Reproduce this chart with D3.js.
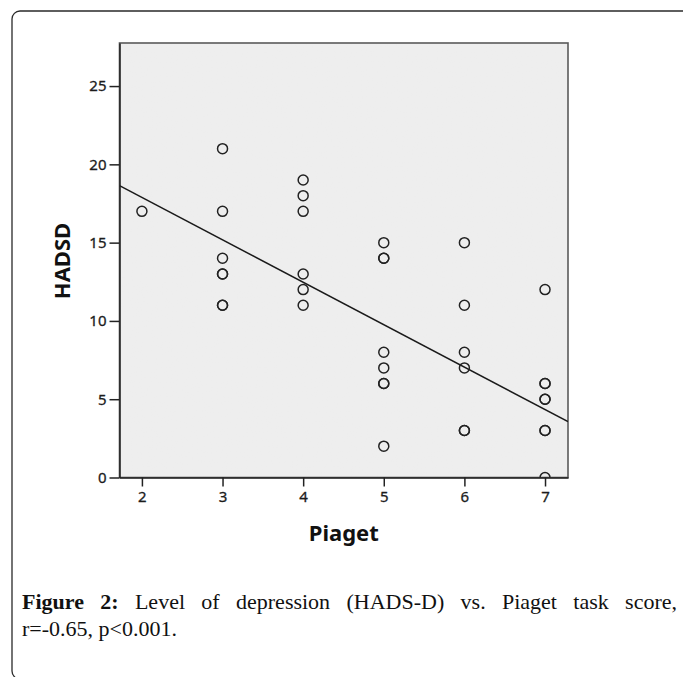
<!DOCTYPE html>
<html lang="en">
<head>
<meta charset="utf-8">
<title>HADSD vs Piaget</title>
<script src="https://cdn.jsdelivr.net/npm/d3@7"></script>
<style>
  body { margin: 0; background: #fff; }
  #wrap { position: relative; width: 683px; height: 677px; overflow: hidden; }
  #wrap svg { position: absolute; left: 0; top: 0; }
  .axis text { font-family: 'Noto Sans', sans-serif; font-size: 15px; fill: #1c1c1c;
               stroke: #1c1c1c; stroke-width: 0.3px; }
  .axis path, .axis line { stroke: #222; stroke-width: 1.5px; }
  .title { font-family: 'Noto Sans', sans-serif; font-weight: bold; font-size: 22px; fill: #111; }
  .caption { position: absolute; left: 22px; width: 655px; font-family: 'Liberation Serif', serif;
             font-size: 22px; line-height: 27px; color: #111; }
  .caption.first { text-align: justify; text-align-last: justify; }
</style>
</head>
<body>
<div id="wrap">
  <div id="viz"></div>
  <div class="caption first" style="top:588px"><b>Figure 2:</b> Level of depression (HADS-D) vs. Piaget task score,</div>
  <div class="caption" style="top:615px">r=-0.65, p&lt;0.001.</div>
</div>
<script>
// paired scores, one entry per subject (overlapping circles repeated)
const piaget = [2,
  3, 3, 3, 3, 3, 3, 3,
  4, 4, 4, 4, 4, 4,
  5, 5, 5, 5, 5, 5, 5, 5,
  6, 6, 6, 6, 6, 6,
  7, 7, 7, 7, 7, 7, 7, 7];
const hadsd = [17,
  21, 17, 14, 13, 13, 11, 11,
  19, 18, 17, 13, 12, 11,
  15, 14, 14, 8, 7, 6, 6, 2,
  15, 11, 8, 7, 3, 3,
  12, 6, 6, 5, 5, 3, 3, 0];

const xTicks = [2, 3, 4, 5, 6, 7];
const yTicks = [0, 5, 10, 15, 20, 25];
const xDomain = [1.722, 7.285];
const yDomain = [0, 27.75];

// fit line
const fitIntercept = 23.31;
const fitSlope = -2.71;

const W = 683, H = 677;
const pL = 119.5, pR = 568, pT = 43, pB = 477.5;

const svg = d3.select('#viz').append('svg')
  .attr('width', W).attr('height', H);

// speckled grey like the SPSS chart background
const defs = svg.append('defs');
const flt = defs.append('filter').attr('id', 'speckle')
  .attr('filterUnits', 'userSpaceOnUse')
  .attr('x', pL).attr('y', pT).attr('width', pR - pL).attr('height', pB - pT);
flt.append('feTurbulence')
  .attr('type', 'fractalNoise').attr('baseFrequency', 0.8)
  .attr('numOctaves', 1).attr('seed', 3).attr('result', 'noise');
flt.append('feColorMatrix').attr('in', 'noise').attr('type', 'matrix')
  .attr('values', '0 0 0 0 0.84  0 0 0 0 0.84  0 0 0 0 0.84  1.6 0 0 0 -0.7')
  .attr('result', 'dots');
flt.append('feComposite').attr('in', 'dots').attr('in2', 'SourceGraphic').attr('operator', 'over');

// outer frame of the figure
svg.append('rect')
  .attr('x', 12).attr('y', 11)
  .attr('width', 700).attr('height', 668)
  .attr('rx', 8)
  .attr('fill', 'none')
  .attr('stroke', '#2a2a2a')
  .attr('stroke-width', 1.3);

const x = d3.scaleLinear().domain(xDomain).range([pL, pR]);
const y = d3.scaleLinear().domain(yDomain).range([pB, pT]);

defs.append('clipPath').attr('id', 'plotclip')
  .append('rect')
  .attr('x', pL).attr('y', pT)
  .attr('width', pR - pL).attr('height', pB - pT);

svg.append('rect')
  .attr('x', pL).attr('y', pT)
  .attr('width', pR - pL).attr('height', pB - pT)
  .attr('fill', '#eeeeee')
  .attr('filter', 'url(#speckle)');

svg.append('rect')
  .attr('x', pL).attr('y', pT)
  .attr('width', pR - pL).attr('height', pB - pT)
  .attr('fill', 'none')
  .attr('stroke', '#5a5a5a')
  .attr('stroke-width', 1.6);

const plot = svg.append('g').attr('clip-path', 'url(#plotclip)');

plot.append('line')
  .attr('x1', x(xDomain[0])).attr('y1', y(fitIntercept + fitSlope * xDomain[0]))
  .attr('x2', x(xDomain[1])).attr('y2', y(fitIntercept + fitSlope * xDomain[1]))
  .attr('stroke', '#1a1a1a')
  .attr('stroke-width', 1.5);

plot.selectAll('circle')
  .data(piaget.map(function(p, i) { return {p: p, h: hadsd[i]}; }))
  .enter().append('circle')
  .attr('cx', function(d) { return x(d.p); })
  .attr('cy', function(d) { return y(d.h); })
  .attr('r', 5)
  .attr('fill', 'none')
  .attr('stroke', '#222')
  .attr('stroke-width', 1.5);

svg.append('g')
  .attr('class', 'axis')
  .attr('transform', 'translate(0,' + pB + ')')
  .call(d3.axisBottom(x).tickValues(xTicks).tickFormat(d3.format('d'))
    .tickSize(9).tickPadding(5).tickSizeOuter(0));

svg.append('g')
  .attr('class', 'axis')
  .attr('transform', 'translate(' + pL + ',0)')
  .call(d3.axisLeft(y).tickValues(yTicks).tickFormat(d3.format('d'))
    .tickSize(10).tickPadding(3).tickSizeOuter(0));

svg.append('text')
  .attr('class', 'title')
  .attr('x', (pL + pR) / 2)
  .attr('y', 541)
  .attr('text-anchor', 'middle')
  .text('Piaget');

svg.append('text')
  .attr('class', 'title')
  .attr('transform', 'translate(70,261) rotate(-90)')
  .attr('text-anchor', 'middle')
  .text('HADSD');
</script>
</body>
</html>
